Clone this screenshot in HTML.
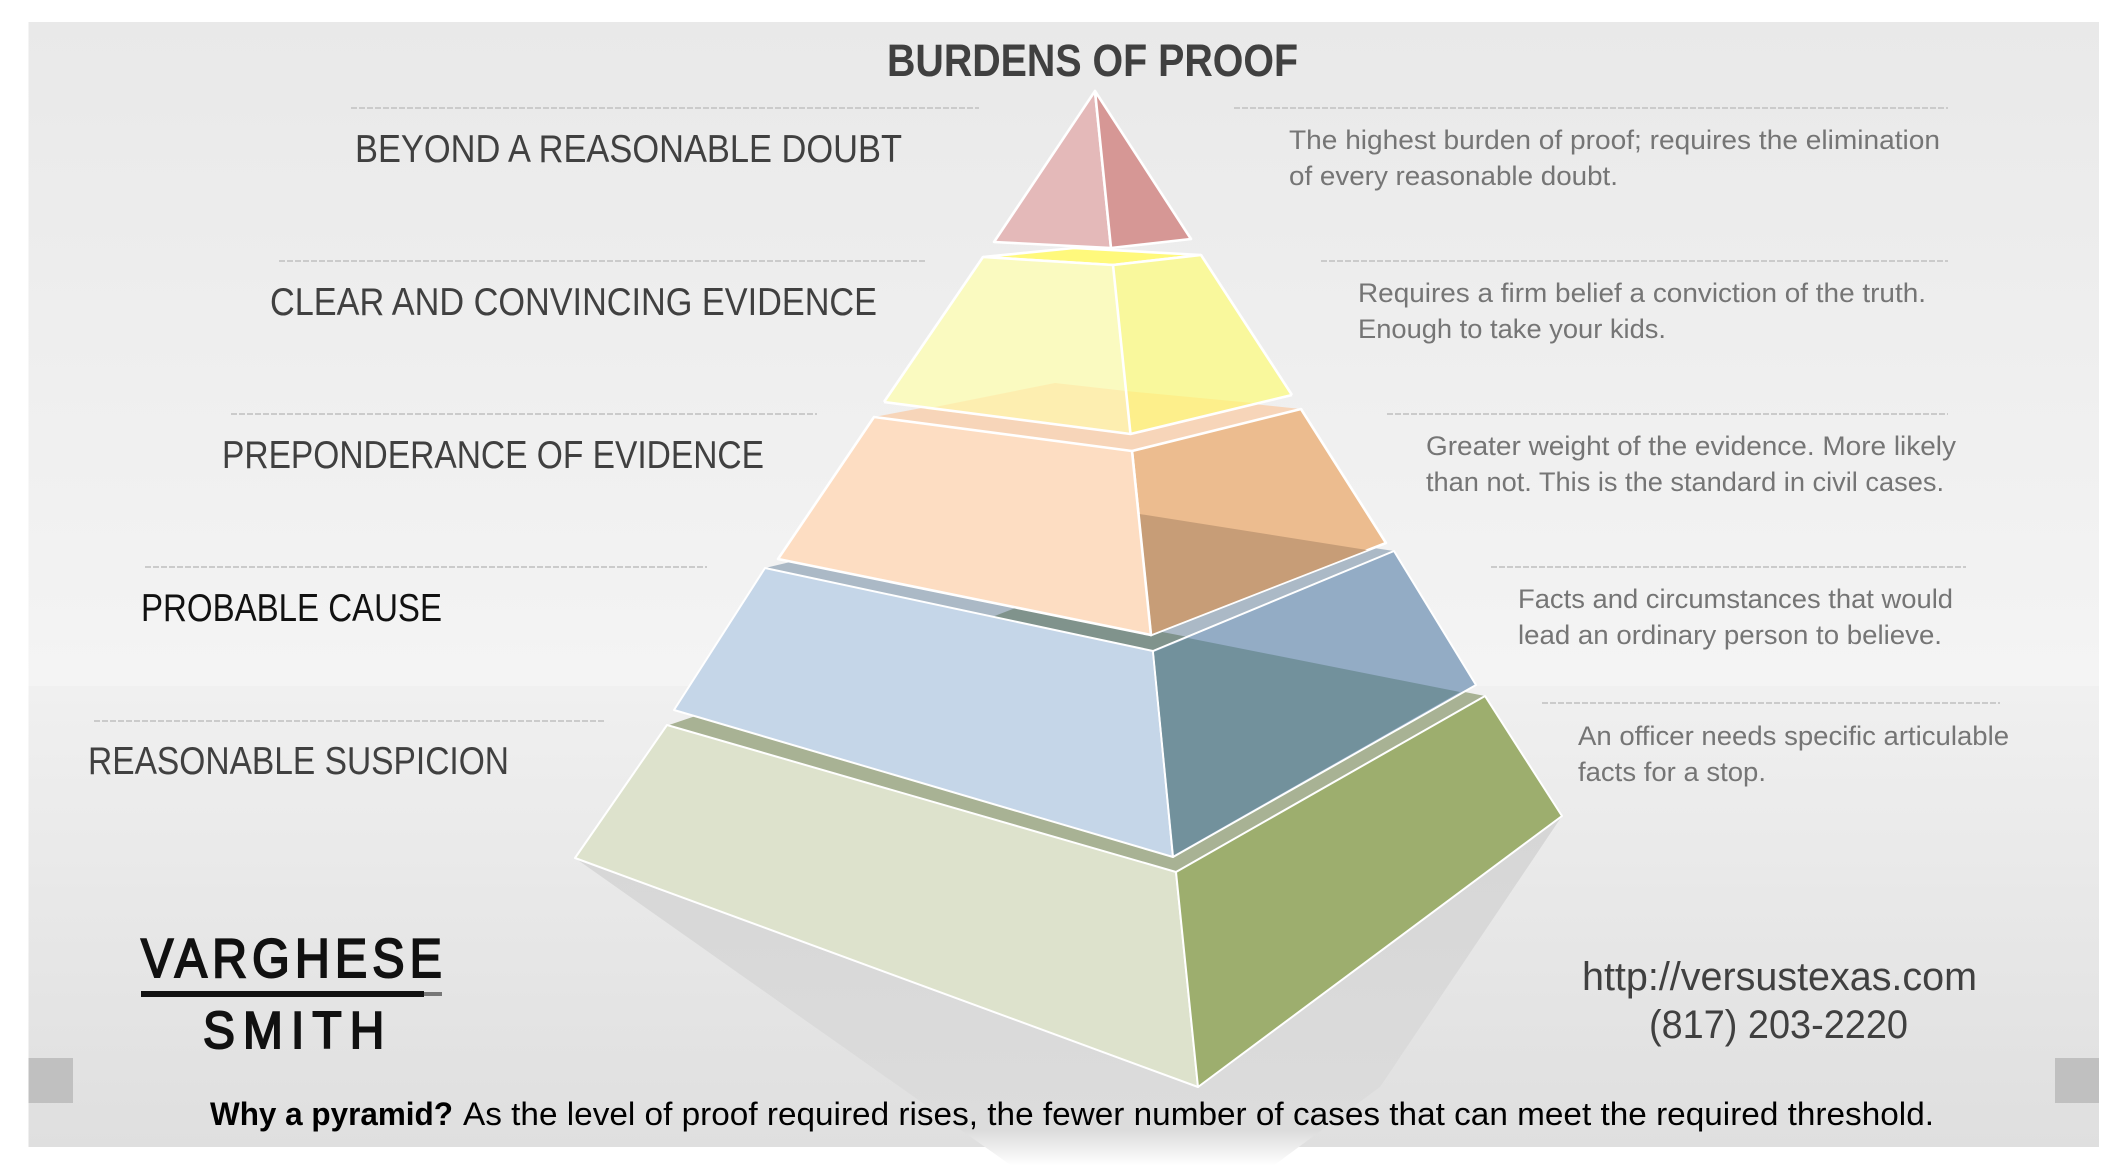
<!DOCTYPE html>
<html><head><meta charset="utf-8"><title>Burdens of Proof</title>
<style>
html,body{margin:0;padding:0;background:#fff;width:2127px;height:1166px;overflow:hidden}
svg{display:block}
text{font-family:"Liberation Sans",sans-serif}
.l{font-size:39px;fill:#404040}
.d{font-size:27px;fill:#757575}
.f{font-size:32.500px;fill:#000}
.c{font-size:40px;fill:#404040}
.w{stroke:#fff;stroke-width:2;stroke-linejoin:round}
.t{stroke:#fff;stroke-width:2.600;stroke-linejoin:round}
</style></head><body>
<svg width="2127" height="1166" viewBox="0 0 2127 1166" xmlns="http://www.w3.org/2000/svg">
<defs>
<linearGradient id="g1" x1="0" y1="0" x2="0" y2="1"><stop offset="0" stop-color="#e9e9e9"/><stop offset="1" stop-color="#f4f4f4"/></linearGradient>
<linearGradient id="g2" x1="0" y1="0" x2="0" y2="1"><stop offset="0" stop-color="#f0f0f0"/><stop offset="1" stop-color="#dfdfdf"/></linearGradient>
<linearGradient id="sh" gradientUnits="userSpaceOnUse" x1="0" y1="815" x2="0" y2="1166"><stop offset="0" stop-color="#d6d6d6"/><stop offset="0.9" stop-color="#dcdcdc"/><stop offset="0.95" stop-color="#eeeeee"/><stop offset="1" stop-color="#ffffff"/></linearGradient>
</defs>
<rect x="28.500" y="22" width="2070.500" height="664" fill="url(#g1)"/>
<rect x="28.500" y="686" width="2070.500" height="461" fill="url(#g2)"/>
<rect x="28.500" y="1058" width="44.500" height="45" fill="#c0c0c0"/>
<rect x="2055" y="1058" width="44" height="45" fill="#c0c0c0"/>

<g stroke="#cbcbcb" stroke-width="2" stroke-dasharray="6 2" fill="none">
<path d="M351 108H979M279 261H925M231 414H817M145 567H707M94 721H605"/>
<path d="M1234 108H1948M1321 261H1948M1387 414H1948M1491 567H1966M1542 703H2000"/>
</g>

<polygon points="575,858 1012,1166 1273,1166 1380,1087 1562,816 1198,1087" fill="url(#sh)"/>

<!-- green tier -->
<polygon points="669,725 1023,605 1485,696 1176,872" fill="#a8b294"/>
<polygon points="667,725 1176,872 1198,1087 575,858" fill="#dde2cc" class="w"/>
<polygon points="1176,872 1485,696 1562,816 1198,1087" fill="#9dae6e" class="w"/>

<!-- blue tier -->
<polygon points="765,568 1052,500 1394,551 1153,651" fill="#abb9c6"/>
<polygon points="992,617 1023,605 1188,637 1153,651" fill="#80938c"/>
<polygon points="765,568 1153,651 1173,857 674,710" fill="#c5d6e8" class="w"/>
<polygon points="1153,651 1394,551 1476,685 1173,857" fill="#93acc5" class="w"/>
<polygon points="1154,652 1188,638 1460,692 1174,855" fill="#72919c"/>

<!-- orange tier -->
<polygon points="874,417 1055,383 1301,409 1132,451" fill="#f7d5b9"/>
<polygon points="1132,451 1301,409 1386,543 1151,635" fill="#ecbc8f" class="t"/>
<polygon points="1139.500,514 1367,550 1152,634" fill="#c79d77"/>
<polygon points="874,417 1132,451 1151,635 778,559" fill="#fdddc2" class="t"/>

<!-- yellow tier -->
<polygon points="983,257 1074,248 1201,255 1113,265" fill="#fff97c" class="t"/>
<polygon points="983,257 1113,265 1130.500,434 884,402" fill="#fafac0"/>
<polygon points="1113,265 1201,255 1292,395 1130.500,434" fill="#f9f89c"/>
<polygon points="925,409 1055,383 1126,391 1130,433" fill="#fdeeb0"/>
<polygon points="1126,391 1253,403 1131,433" fill="#fdef8b"/>
<path d="M1113,265L1130.500,434M884,402L1130.500,434L1292,395M983,257L884,402M1201,255L1292,395M983,257L1113,265L1201,255" fill="none" class="t"/>

<!-- red tier -->
<polygon points="994,242 1095,91 1111,248" fill="#e4b9b9" class="t"/>
<polygon points="1095,91 1191,239 1111,248" fill="#d69795" class="t"/>

<!-- text -->
<text x="887" y="76" font-size="45" font-weight="700" fill="#404040" textLength="411" lengthAdjust="spacingAndGlyphs">BURDENS OF PROOF</text>

<text class="l" x="355" y="162" textLength="547" lengthAdjust="spacingAndGlyphs">BEYOND A REASONABLE DOUBT</text>
<text class="l" x="270" y="315" textLength="607" lengthAdjust="spacingAndGlyphs">CLEAR AND CONVINCING EVIDENCE</text>
<text class="l" x="222" y="468" textLength="542" lengthAdjust="spacingAndGlyphs">PREPONDERANCE OF EVIDENCE</text>
<text class="l" x="141" y="621" textLength="301" lengthAdjust="spacingAndGlyphs" style="fill:#111">PROBABLE CAUSE</text>
<text class="l" x="88" y="774" textLength="421" lengthAdjust="spacingAndGlyphs">REASONABLE SUSPICION</text>

<text class="d" x="1289" y="149" textLength="651" lengthAdjust="spacingAndGlyphs">The highest burden of proof; requires the elimination</text>
<text class="d" x="1289" y="185" textLength="329" lengthAdjust="spacingAndGlyphs">of every reasonable doubt.</text>
<text class="d" x="1358" y="302" textLength="568" lengthAdjust="spacingAndGlyphs">Requires a firm belief a conviction of the truth.</text>
<text class="d" x="1358" y="338" textLength="308" lengthAdjust="spacingAndGlyphs">Enough to take your kids.</text>
<text class="d" x="1426" y="455" textLength="530" lengthAdjust="spacingAndGlyphs">Greater weight of the evidence. More likely</text>
<text class="d" x="1426" y="491" textLength="518" lengthAdjust="spacingAndGlyphs">than not. This is the standard in civil cases.</text>
<text class="d" x="1518" y="608" textLength="435" lengthAdjust="spacingAndGlyphs">Facts and circumstances that would</text>
<text class="d" x="1518" y="644" textLength="424" lengthAdjust="spacingAndGlyphs">lead an ordinary person to believe.</text>
<text class="d" x="1578" y="745" textLength="431" lengthAdjust="spacingAndGlyphs">An officer needs specific articulable</text>
<text class="d" x="1578" y="781" textLength="188" lengthAdjust="spacingAndGlyphs">facts for a stop.</text>

<text class="c" x="1582" y="990" textLength="395" lengthAdjust="spacingAndGlyphs">http://versustexas.com</text>
<text class="c" x="1649" y="1038" textLength="259" lengthAdjust="spacingAndGlyphs">(817) 203-2220</text>

<text transform="translate(141,977) scale(0.88,1)" x="0" y="0" font-size="55" fill="#111" stroke="#111" stroke-width="2" textLength="342" lengthAdjust="spacing">VARGHESE</text>
<rect x="141" y="991" width="283" height="6" fill="#111"/>
<rect x="424" y="992" width="18" height="4" fill="#777"/>
<text transform="translate(203,1048) scale(0.92,1)" x="0" y="0" font-size="52" fill="#111" stroke="#111" stroke-width="2" textLength="197" lengthAdjust="spacing">SMITH</text>

<text class="f" x="210" y="1125" font-weight="700" textLength="243" lengthAdjust="spacingAndGlyphs">Why a pyramid?</text>
<text class="f" x="463" y="1125" textLength="1471" lengthAdjust="spacingAndGlyphs">As the level of proof required rises, the fewer number of cases that can meet the required threshold.</text>
</svg>
</body></html>
